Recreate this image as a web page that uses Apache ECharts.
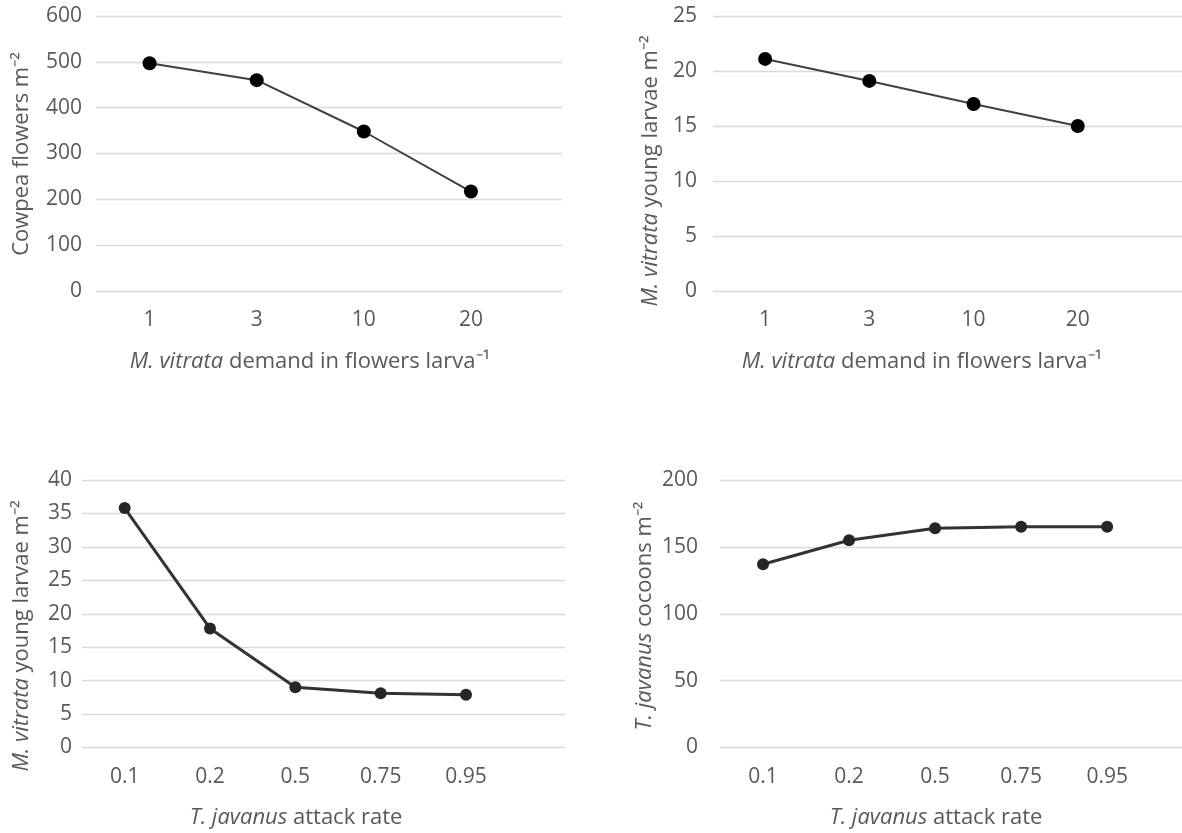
<!DOCTYPE html>
<html><head><meta charset="utf-8">
<script src="https://cdn.jsdelivr.net/npm/echarts@6/dist/echarts.min.js"></script>
<style>html,body{margin:0;padding:0;background:#fff}#c{width:1182px;height:833px}</style>
</head><body><div id="c"></div>
<script>
const demandCats = ['1', '3', '10', '20'];
const cowpeaFlowers = [497, 460, 348, 217];
const youngLarvaeDemand = [21.1, 19.1, 17.0, 15.0];
const attackCats = ['0.1', '0.2', '0.5', '0.75', '0.95'];
const youngLarvaeAttack = [35.8, 17.8, 9.0, 8.1, 7.9];
const cocoons = [137, 155, 164, 165, 165];

const FONT = 'Open Sans';
const TXT = '#595959';
const chart = echarts.init(document.getElementById('c'));

function pairs(vals) { return vals.map((v, i) => [i, v]); }

const grids = [
  {left: 96, width: 466, top: 16, height: 275},
  {left: 713, width: 469, top: 16, height: 275},
  {left: 82, width: 483, top: 480, height: 267.5},
  {left: 720, width: 462, top: 480, height: 267.5}
];
const xMax = [3.85, 4.0, 5.16, 4.87];
const xCats = [demandCats, demandCats, attackCats, attackCats];
const yCfg = [
  {max: 600, interval: 100, margin: 14},
  {max: 25, interval: 5, margin: 16},
  {max: 40, interval: 5, margin: 10},
  {max: 200, interval: 50, margin: 22}
];
const seriesData = [cowpeaFlowers, youngLarvaeDemand, youngLarvaeAttack, cocoons];
const TICK = 21;

const xAxis = grids.map((g, i) => ({
  type: 'value', gridIndex: i, min: -0.5, max: xMax[i],
  axisLine: {show: false}, axisTick: {show: false}, splitLine: {show: false},
  axisLabel: {
    customValues: xCats[i].map((c, k) => k),
    formatter: v => xCats[i][Math.round(v)],
    color: TXT, fontFamily: FONT, fontSize: TICK, margin: 19
  }
}));
const yAxis = grids.map((g, i) => ({
  type: 'value', gridIndex: i, min: 0, max: yCfg[i].max, interval: yCfg[i].interval,
  axisLine: {show: false}, axisTick: {show: false},
  splitLine: {lineStyle: {color: '#d9d9d9', width: 1.3}},
  axisLabel: {color: TXT, fontFamily: FONT, fontSize: TICK, margin: yCfg[i].margin}
}));
const series = seriesData.map((d, i) => ({
  type: 'line', xAxisIndex: i, yAxisIndex: i, data: pairs(d),
  symbol: 'circle', symbolSize: i < 2 ? 14 : 12,
  lineStyle: {color: i < 2 ? '#404040' : '#333333', width: i < 2 ? 2 : 3},
  itemStyle: {color: i < 2 ? '#000000' : '#262626'},
  animation: false
}));

const NAME = 22;
const rich = {
  n: {fontFamily: FONT, fontSize: NAME, fill: TXT},
  i: {fontFamily: FONT, fontSize: NAME, fontStyle: 'italic', fill: TXT}
};
function label(x, y, text, rot) {
  return {
    type: 'text', x: x, y: y, rotation: rot ? Math.PI / 2 : 0,
    style: {text: text, rich: rich, align: 'center', verticalAlign: 'middle',
      fontFamily: FONT, fontSize: NAME, fill: TXT}
  };
}

chart.setOption({
  animation: false,
  grid: grids,
  xAxis: xAxis,
  yAxis: yAxis,
  series: series,
  graphic: [
    label(22, 154, '{n|Cowpea flowers m⁻²}', true),
    label(310, 362, '{i|M. vitrata}{n| demand in flowers larva⁻¹}', false),
    label(651, 171, '{i|M. vitrata}{n| young larvae m⁻²}', true),
    label(922, 362, '{i|M. vitrata}{n| demand in flowers larva⁻¹}', false),
    label(22, 636, '{i|M. vitrata}{n| young larvae m⁻²}', true),
    label(296, 818, '{i|T. javanus}{n| attack rate}', false),
    label(645, 616, '{i|T. javanus}{n| cocoons m⁻²}', true),
    label(936, 818, '{i|T. javanus}{n| attack rate}', false)
  ]
});
</script></body></html>
